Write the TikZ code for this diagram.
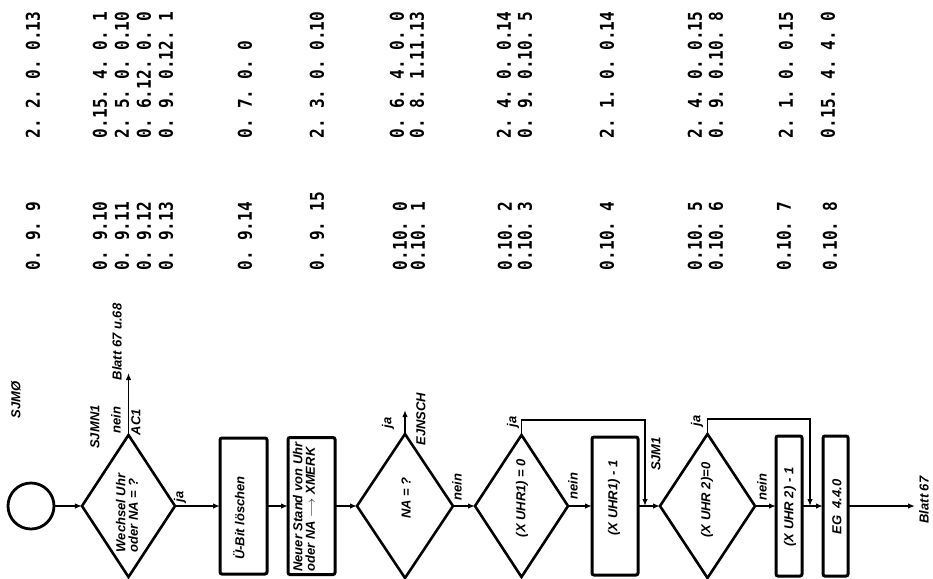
\documentclass[tikz,border=0pt]{standalone}
\usepackage{graphicx}
\usepackage{fontspec}
\setmainfont{Liberation Sans}
\newfontfamily\numfont{DejaVu Sans Mono}
\usetikzlibrary{shapes.geometric,arrows.meta}
\newcommand\nm[1]{\scalebox{0.85}[1]{#1}}
\begin{document}
\begin{tikzpicture}[x=1pt,y=-1pt,
  every node/.style={inner sep=0pt, outer sep=0pt},
  lbl/.style={rotate=90, font=\bfseries\itshape\fontsize{13}{12.5}\selectfont, align=left},
  num/.style={rotate=90, anchor=west, font=\numfont\bfseries\fontsize{19}{19}\selectfont\frenchspacing},
  stepbox/.style={draw, line width=3pt, rounded corners=2pt},
  dia/.style={draw, diamond, line width=2.6pt},
  conn/.style={line width=1.8pt},
  arr/.style={conn, -{Latex[length=7pt,width=5.5pt]}}
]
\useasboundingbox (0,0) rectangle (933,578);

% ---------- number columns (upper) ----------
\node[num] (r1)  at (33,138)  {\nm{2. 2. 0. 0.13}};
\node[num] (r2)  at (100,138) {\nm{0.15. 4. 0. 1}};
\node[num] (r3)  at (122,138) {\nm{2. 5. 0. 0.10}};
\node[num] (r4)  at (144,138) {\nm{0. 6.12. 0. 0}};
\node[num] (r5)  at (166,138) {\nm{0. 9. 0.12. 1}};
\node[num] (r6)  at (245,138) {\nm{0. 7. 0. 0}};
\node[num] (r7)  at (317,138) {\nm{2. 3. 0. 0.10}};
\node[num] (r8)  at (397,138) {\nm{0. 6. 4. 0. 0}};
\node[num] (r9)  at (417,138) {\nm{0. 8. 1.11.13}};
\node[num] (r10) at (504,138) {\nm{2. 4. 0. 0.14}};
\node[num] (r11) at (525,138) {\nm{0. 9. 0.10. 5}};
\node[num] (r12) at (607,138) {\nm{2. 1. 0. 0.14}};
\node[num] (r13) at (695,138) {\nm{2. 4. 0. 0.15}};
\node[num] (r14) at (716,138) {\nm{0. 9. 0.10. 8}};
\node[num] (r15) at (786,138) {\nm{2. 1. 0. 0.15}};
\node[num] (r16) at (828,138) {\nm{0.15. 4. 4. 0}};

% ---------- number columns (lower) ----------
\node[num] (l1)  at (33,270)  {\nm{0. 9. 9}};
\node[num] (l2)  at (100,270) {\nm{0. 9.10}};
\node[num] (l3)  at (122,270) {\nm{0. 9.11}};
\node[num] (l4)  at (144,270) {\nm{0. 9.12}};
\node[num] (l5)  at (166,270) {\nm{0. 9.13}};
\node[num] (l6)  at (245,270) {\nm{0. 9.14}};
\node[num] (l7)  at (317,270) {\nm{0. 9. 15}};
\node[num] (l8)  at (400,270) {\nm{0.10. 0}};
\node[num] (l9)  at (418,270) {\nm{0.10. 1}};
\node[num] (l10) at (505,270) {\nm{0.10. 2}};
\node[num] (l11) at (525,270) {\nm{0.10. 3}};
\node[num] (l12) at (607,270) {\nm{0.10. 4}};
\node[num] (l13) at (695,270) {\nm{0.10. 5}};
\node[num] (l14) at (716,270) {\nm{0.10. 6}};
\node[num] (l15) at (784,270) {\nm{0.10. 7}};
\node[num] (l16) at (830,270) {\nm{0.10. 8}};

% ---------- flowchart shapes ----------
\node[draw, circle, line width=2.8pt, minimum size=46pt] (st) at (31,506) {};
\node[dia, minimum width=93pt, minimum height=142pt] (d1) at (128.5,506) {};
\node[stepbox, minimum width=47pt, minimum height=136pt] (ub) at (243.5,506) {};
\node[stepbox, minimum width=47pt, minimum height=137pt] (ns) at (311.5,506) {};
\node[dia, minimum width=96pt, minimum height=144pt] (d2) at (405,506) {};
\node[dia, minimum width=93pt, minimum height=142pt] (d3) at (521.5,506) {};
\node[stepbox, minimum width=46pt, minimum height=138pt] (u1) at (615,506) {};
\node[dia, minimum width=95pt, minimum height=144pt] (d4) at (707.5,506) {};
\node[stepbox, minimum width=26pt, minimum height=140pt] (u2) at (789,506) {};
\node[stepbox, minimum width=25pt, minimum height=140pt] (eg) at (835.5,506) {};

% texts inside shapes
\node[lbl] (td1) at (127,513) {Wechsel Uhr\\oder NA = ?};
\node[lbl] (tub) at (239,518) {Ü-Bit löschen};
\node[lbl] (tns) at (304,507) {Neuer Stand von Uhr\\oder NA $\longrightarrow$ XMERK};
\node[lbl] (td2) at (406,498) {NA = ?};
\node[lbl] (td3) at (522,498) {(X UHR1) = 0};
\node[lbl] (tu1) at (614,498) {(X UHR1) - 1};
\node[lbl] (td4) at (707,500) {(X UHR 2)=0};
\node[lbl] (tu2) at (790,507) {(X UHR 2) - 1};
\node[lbl] (teg) at (837,507) {EG\ \ 4.4.0};

% ---------- coordinates ----------
\coordinate (b1) at (128.5,373);
\coordinate (e1) at (405,410);
\coordinate (t3) at (521.5,420);
\coordinate (j1) at (645,506);
\coordinate (t4) at (707.5,419);
\coordinate (j2) at (810,506);
\coordinate (ende) at (915,506);

% ---------- connectors ----------
\draw[arr] (st) -- (d1);
\draw[arr] (d1) -- (ub);
\draw[arr] (ub) -- (ns);
\draw[arr] (ns) -- (d2);
\draw[arr] (d2) -- (d3);
\draw[arr] (d3) -- (u1);
\draw[arr] (u1) -- (d4);
\draw[arr] (d4) -- (u2);
\draw[arr] (u2) -- (eg);
\draw[arr] (eg) -- (ende);
\draw[arr] (d1.north) -- (b1);
\draw[arr] (d2.north) -- (e1);
\draw[arr] (d3.north) -- (t3) -| (j1);
\draw[arr] (d4.north) -- (t4) -| (j2);

% ---------- labels ----------
\node[lbl] (lsjm0) at (16,400) {SJMØ};
\node[lbl] (lsjmn1) at (95,427) {SJMN1};
\node[lbl] (ln1) at (116,420) {nein};
\node[lbl] (lac1) at (136,422) {AC1};
\node[lbl] (lbl67) at (117,342) {Blatt 67 u.68};
\node[lbl] (lja1) at (180,497) {ja};
\node[lbl] (lja2) at (388,423) {ja};
\node[lbl] (lein) at (421,419) {EJNSCH};
\node[lbl] (ln2) at (457,487) {nein};
\node[lbl] (lja3) at (513,422) {ja};
\node[lbl] (ln3) at (573,486) {nein};
\node[lbl] (lsjm1) at (656,454) {SJM1};
\node[lbl] (lja4) at (697,421) {ja};
\node[lbl] (ln4) at (762,487) {nein};
\node[lbl] (lb67) at (924,500) {Blatt 67};
\end{tikzpicture}
\end{document}
